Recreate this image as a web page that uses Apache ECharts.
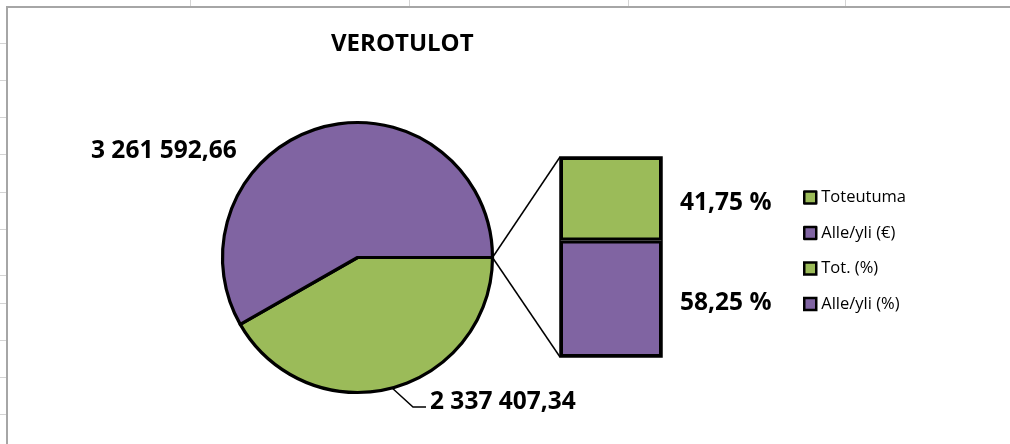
<!DOCTYPE html>
<html>
<head>
<meta charset="utf-8">
<script src="https://cdn.jsdelivr.net/npm/echarts@6/dist/echarts.min.js"></script>
<style>
  html, body { margin: 0; padding: 0; background: #fff; }
  #wrap { position: relative; width: 1010px; height: 444px; overflow: hidden; background: #fff; }
  .vl { position: absolute; top: 0; width: 1px; height: 7px; background: #d4d4d4; }
  .hl { position: absolute; left: 0; width: 7px; height: 1px; background: #d4d4d4; }
  #frame { position: absolute; left: 6px; top: 6px; right: -4px; bottom: -4px; border-left: 2px solid #a6a6a6; border-top: 2px solid #a6a6a6; background: #fff; }
  #chart { position: absolute; left: 0; top: 0; width: 1010px; height: 444px; }
</style>
</head>
<body>
<div id="wrap">
  <div id="deco"></div>
  <div id="frame"></div>
  <div id="chart"></div>
</div>
<script>
// ---- data ----
var title = 'VEROTULOT';
var pieNames = ['Toteutuma', 'Alle/yli (€)'];
var pieValues = [2337407.34, 3261592.66];
var barNames = ['Tot. (%)', 'Alle/yli (%)'];
var barPercents = [41.75, 58.25];
var legendNames = ['Toteutuma', 'Alle/yli (€)', 'Tot. (%)', 'Alle/yli (%)'];

// ---- spreadsheet decoration ----
var deco = document.getElementById('deco');
[190, 409, 628, 845].forEach(function (x) {
  var d = document.createElement('div'); d.className = 'vl'; d.style.left = x + 'px'; deco.appendChild(d);
});
[43, 80, 117, 154, 192, 229, 275, 303, 340, 377, 414].forEach(function (y) {
  var d = document.createElement('div'); d.className = 'hl'; d.style.top = y + 'px'; deco.appendChild(d);
});

var GREEN = '#9BBB59', PURPLE = '#8064A2';
var FONT = '"Open Sans", "Noto Sans", sans-serif';

function fmtNum(v) {
  var s = v.toFixed(2).split('.');
  return s[0].replace(/\B(?=(\d{3})+(?!\d))/g, ' ') + ',' + s[1];
}
function fmtPct(v) { return v.toFixed(2).replace('.', ',') + ' %'; }

var pieCenter = [357.5, 257.5], pieR = 135;
var barGrid = { left: 560, top: 157, width: 102, height: 200 };

var labelPos = [
  { x: 430, y: 402 },
  { x: 91, y: 151 }
];

var chart = echarts.init(document.getElementById('chart'), null, { renderer: 'canvas' });
var option = {
  backgroundColor: 'transparent',
  animation: false,
  title: {
    text: title, left: 326, top: 27, padding: 5,
    textStyle: { fontFamily: FONT, fontSize: 24, fontWeight: 'bold', color: '#000' }
  },
  legend: {
    data: legendNames, orient: 'vertical', left: 803, top: 189, padding: 0,
    icon: 'rect', itemWidth: 12, itemHeight: 12, itemGap: 18.5,
    itemStyle: { borderColor: '#000', borderWidth: 2.5 },
    textStyle: { fontFamily: FONT, fontSize: 16.5, color: '#000', lineHeight: 16 }
  },
  grid: { left: barGrid.left, top: barGrid.top, width: barGrid.width, height: barGrid.height },
  xAxis: { type: 'category', data: [''], show: false },
  yAxis: { type: 'value', min: 0, max: 100, show: false },
  series: [
    {
      type: 'pie', name: 'Verotulot',
      center: pieCenter, radius: pieR, startAngle: 0, clockwise: true,
      data: pieNames.map(function (n, i) {
        return {
          name: n, value: pieValues[i],
          itemStyle: { color: i === 0 ? GREEN : PURPLE },
          labelLine: { show: i === 0 }
        };
      }),
      itemStyle: { borderColor: '#000', borderWidth: 3.2 },
      emphasis: { disabled: true },
      label: {
        show: true, position: 'outside',
        formatter: function (p) { return fmtNum(p.value); },
        fontFamily: FONT, fontSize: 24.5, fontWeight: 'bold', color: '#000'
      },
      labelLine: { show: true, lineStyle: { color: '#000', width: 1.5 } },
      labelLayout: function (p) {
        var pos = labelPos[p.dataIndex];
        var res = { x: pos.x, y: pos.y, align: 'left', verticalAlign: 'middle' };
        if (p.dataIndex === 0 && p.labelLinePoints && p.labelLinePoints[0]) {
          var s = p.labelLinePoints[0];
          res.labelLinePoints = [[s[0], s[1]], [pos.x - 17, pos.y + 5], [pos.x - 4, pos.y + 5]];
        }
        return res;
      }
    },
    {
      type: 'bar', name: barNames[1], stack: 'b', barWidth: '100%',
      data: [barPercents[1]],
      itemStyle: { color: PURPLE, borderColor: '#000', borderWidth: 3 },
      emphasis: { disabled: true },
      label: {
        show: true, position: 'right', distance: 18, offset: [0, 4],
        formatter: function (p) { return fmtPct(p.value); },
        fontFamily: FONT, fontSize: 24.5, fontWeight: 'bold', color: '#000'
      }
    },
    {
      type: 'bar', name: barNames[0], stack: 'b', barWidth: '100%',
      data: [barPercents[0]],
      itemStyle: { color: GREEN, borderColor: '#000', borderWidth: 3 },
      emphasis: { disabled: true },
      label: {
        show: true, position: 'right', distance: 18, offset: [0, 4],
        formatter: function (p) { return fmtPct(p.value); },
        fontFamily: FONT, fontSize: 24.5, fontWeight: 'bold', color: '#000'
      }
    }
  ]
};
chart.setOption(option);

// connector lines from the pie's split point to the bar's corners, and bar outline
var tip = [pieCenter[0] + pieR, pieCenter[1]];
var topY = chart.convertToPixel({ gridIndex: 0 }, [0, 100])[1];
var botY = chart.convertToPixel({ gridIndex: 0 }, [0, 0])[1];
var bx = barGrid.left;
chart.setOption({
  graphic: [
    { type: 'polyline', z: 0, shape: { points: [tip, [bx, topY]] }, style: { stroke: '#000', lineWidth: 1.5, fill: null } },
    { type: 'polyline', z: 0, shape: { points: [tip, [bx, botY]] }, style: { stroke: '#000', lineWidth: 1.5, fill: null } },
    { type: 'rect', z: 10, shape: { x: bx, y: topY, width: barGrid.width, height: botY - topY }, style: { stroke: '#000', lineWidth: 1.5, fill: null } }
  ]
});
</script>
</body>
</html>
